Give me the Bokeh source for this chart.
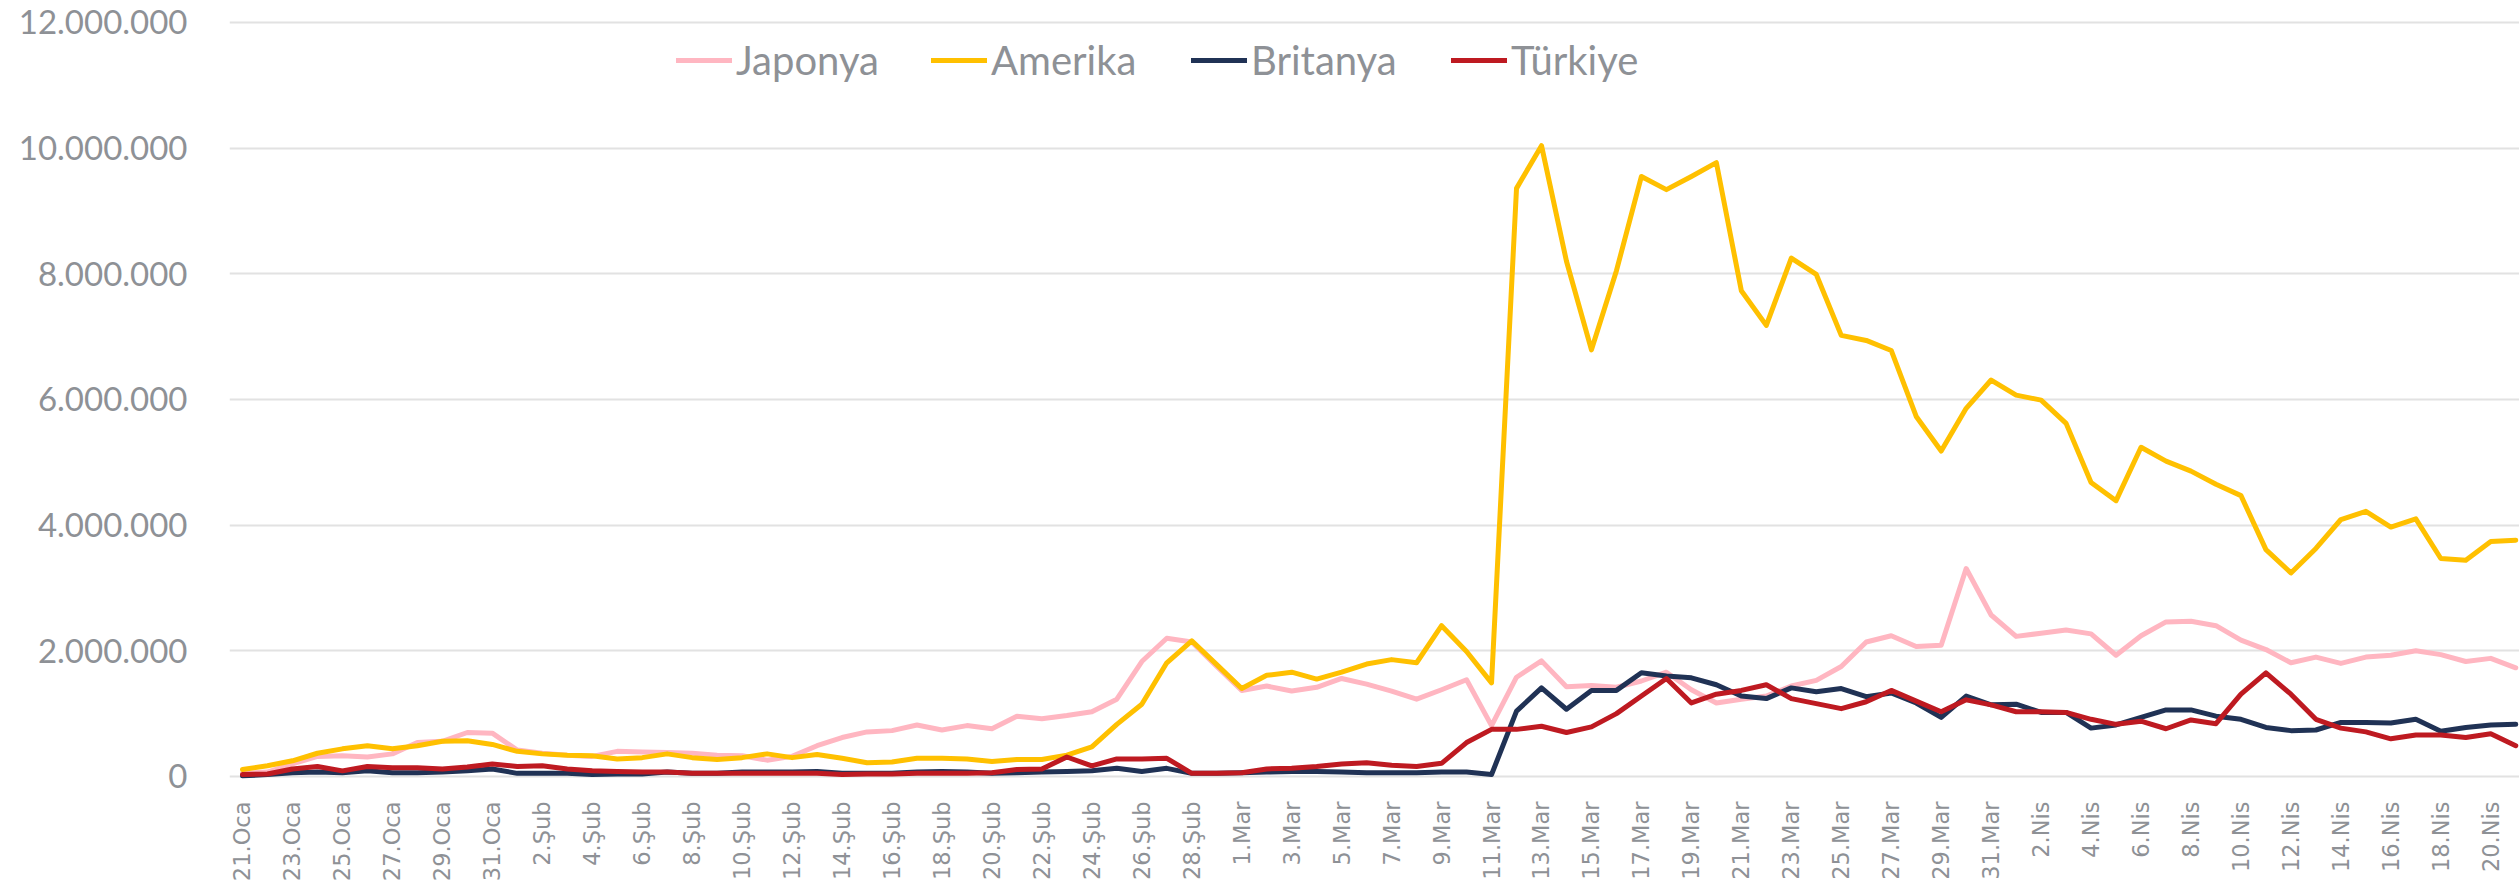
from bokeh.plotting import figure
from bokeh.models import Range1d, Legend, LegendItem, FixedTicker, CustomJSTickFormatter
from bokeh.embed import file_html
from bokeh.resources import INLINE
from math import pi

# ---- data (values in millions) ----
tick_labels = ["21.Oca", "23.Oca", "25.Oca", "27.Oca", "29.Oca", "31.Oca",
               "2.Şub", "4.Şub", "6.Şub", "8.Şub", "10.Şub", "12.Şub", "14.Şub",
               "16.Şub", "18.Şub", "20.Şub", "22.Şub", "24.Şub", "26.Şub", "28.Şub",
               "1.Mar", "3.Mar", "5.Mar", "7.Mar", "9.Mar", "11.Mar", "13.Mar",
               "15.Mar", "17.Mar", "19.Mar", "21.Mar", "23.Mar", "25.Mar", "27.Mar",
               "29.Mar", "31.Mar",
               "2.Nis", "4.Nis", "6.Nis", "8.Nis", "10.Nis", "12.Nis", "14.Nis",
               "16.Nis", "18.Nis", "20.Nis"]

japonya = [0.05, 0.07, 0.20, 0.32, 0.33, 0.31, 0.36, 0.54, 0.56, 0.70, 0.69,
           0.42, 0.37, 0.34, 0.32, 0.40, 0.39, 0.38, 0.37, 0.34, 0.33,
           0.26, 0.32, 0.49, 0.62, 0.71, 0.73, 0.82, 0.74, 0.81, 0.76,
           0.96, 0.92, 0.97, 1.03, 1.23, 1.83, 2.20, 2.14, 1.75, 1.37,
           1.44, 1.36, 1.42, 1.56, 1.47, 1.36, 1.23, 1.38, 1.54, 0.81,
           1.58, 1.84, 1.43, 1.45, 1.42, 1.52, 1.66, 1.38, 1.17, 1.23,
           1.28, 1.44, 1.53, 1.75, 2.14, 2.24, 2.07, 2.09, 3.31, 2.57,
           2.23, 2.28, 2.33, 2.27, 1.93, 2.24, 2.46, 2.47, 2.40, 2.17,
           2.02, 1.81, 1.90, 1.80, 1.90, 1.93, 2.00, 1.94, 1.83, 1.88, 1.73]

amerika = [0.11, 0.17, 0.25, 0.37, 0.44, 0.49, 0.44, 0.49, 0.56, 0.57, 0.51,
           0.40, 0.36, 0.34, 0.33, 0.28, 0.30, 0.36, 0.30, 0.27, 0.30,
           0.36, 0.30, 0.35, 0.29, 0.22, 0.23, 0.29, 0.29, 0.28, 0.24,
           0.27, 0.27, 0.34, 0.47, 0.83, 1.15, 1.81, 2.16, 1.78, 1.40,
           1.61, 1.66, 1.55, 1.66, 1.79, 1.86, 1.81, 2.40, 1.99, 1.49,
           9.36, 10.04, 8.20, 6.79, 8.05, 9.55, 9.34, 9.55, 9.77, 7.73,
           7.18, 8.25, 7.99, 7.02, 6.94, 6.78, 5.73, 5.18, 5.86, 6.31,
           6.07, 5.99, 5.62, 4.68, 4.39, 5.24, 5.02, 4.86, 4.65, 4.47,
           3.61, 3.24, 3.63, 4.09, 4.22, 3.97, 4.10, 3.47, 3.44, 3.74, 3.76]

britanya = [0.01, 0.03, 0.06, 0.07, 0.06, 0.09, 0.06, 0.06, 0.07, 0.09, 0.12,
            0.05, 0.05, 0.05, 0.03, 0.04, 0.04, 0.07, 0.05, 0.05, 0.07,
            0.07, 0.07, 0.08, 0.05, 0.05, 0.05, 0.07, 0.08, 0.07, 0.05,
            0.06, 0.07, 0.08, 0.09, 0.13, 0.08, 0.13, 0.05, 0.05, 0.06,
            0.07, 0.08, 0.08, 0.07, 0.06, 0.06, 0.06, 0.07, 0.07, 0.03,
            1.04, 1.41, 1.07, 1.37, 1.37, 1.65, 1.60, 1.57, 1.46, 1.28,
            1.24, 1.41, 1.35, 1.40, 1.27, 1.33, 1.17, 0.94, 1.28, 1.14,
            1.15, 1.02, 1.02, 0.77, 0.82, 0.94, 1.06, 1.06, 0.96, 0.91,
            0.78, 0.73, 0.74, 0.86, 0.86, 0.85, 0.91, 0.72, 0.78, 0.82, 0.83]

turkiye = [0.03, 0.04, 0.12, 0.16, 0.09, 0.16, 0.14, 0.14, 0.12, 0.15, 0.20,
           0.16, 0.17, 0.12, 0.09, 0.08, 0.07, 0.07, 0.05, 0.05, 0.05,
           0.05, 0.05, 0.05, 0.03, 0.04, 0.04, 0.05, 0.05, 0.05, 0.06,
           0.11, 0.12, 0.31, 0.17, 0.28, 0.28, 0.29, 0.05, 0.05, 0.06,
           0.12, 0.13, 0.16, 0.20, 0.22, 0.18, 0.16, 0.21, 0.54, 0.75,
           0.75, 0.80, 0.70, 0.79, 1.00, 1.28, 1.56, 1.17, 1.31, 1.37,
           1.46, 1.24, 1.16, 1.08, 1.19, 1.37, 1.20, 1.03, 1.22, 1.14,
           1.03, 1.03, 1.02, 0.91, 0.83, 0.88, 0.76, 0.90, 0.84, 1.31,
           1.65, 1.31, 0.91, 0.77, 0.71, 0.60, 0.66, 0.66, 0.62, 0.68, 0.49]

series_names = ["Japonya", "Amerika", "Britanya", "Türkiye"]
series_values = [japonya, amerika, britanya, turkiye]
series_colors = ["#FFB6C1", "#FFC000", "#203255", "#BE1A21"]
y_ticks = [0, 2e6, 4e6, 6e6, 8e6, 10e6, 12e6]

MILLION = 1e6
GRAY = "#8E9196"

days = list(range(len(japonya)))

p = figure(width=2519, height=882, output_backend="svg", toolbar_location=None,
           x_range=Range1d(-0.52, 91.15),
           y_range=Range1d(-1.6871e6, 12.3501e6),
           min_border_left=229, min_border_right=0, min_border_top=0,
           min_border_bottom=0)
p.outline_line_color = None
p.background_fill_color = "white"
p.border_fill_color = "white"

renderers = []
for name, vals, col in zip(series_names, series_values, series_colors):
    r = p.line(days, [v * MILLION for v in vals], line_color=col, line_width=5,
               line_join="round", line_cap="round")
    renderers.append(r)

# grid
p.xgrid.grid_line_color = None
p.ygrid.ticker = FixedTicker(ticks=y_ticks)
p.ygrid.grid_line_color = "#E2E2E2"
p.ygrid.grid_line_width = 2

# y axis
p.yaxis.ticker = FixedTicker(ticks=y_ticks)
p.yaxis.formatter = CustomJSTickFormatter(
    code="return Math.round(tick).toString().replace(/\\B(?=(\\d{3})+(?!\\d))/g, '.');")
p.yaxis.axis_line_color = None
p.yaxis.major_tick_line_color = None
p.yaxis.minor_tick_line_color = None
p.yaxis.major_label_standoff = 36
p.yaxis.major_label_text_font = "Lato"
p.yaxis.major_label_text_font_size = "33px"
p.yaxis.major_label_text_color = GRAY

# x axis pinned at value 0
x_ticks = list(range(0, 2 * len(tick_labels), 2))
p.xaxis.fixed_location = 0
p.xaxis.ticker = FixedTicker(ticks=x_ticks)
p.xaxis.major_label_overrides = {t: lab for t, lab in zip(x_ticks, tick_labels)}
p.xaxis.major_label_orientation = pi / 2
p.xaxis.axis_line_color = None
p.xaxis.major_tick_line_color = None
p.xaxis.minor_tick_line_color = None
p.xaxis.major_label_standoff = 19
p.xaxis.major_label_text_font = "DejaVu Sans"
p.xaxis.major_label_text_font_size = "22.5px"
p.xaxis.major_label_text_color = GRAY

# legends (one per item, placed horizontally)
legend_x = [447, 702, 962, 1222]
for name, r, lx in zip(series_names, renderers, legend_x):
    lg = Legend(items=[LegendItem(label=name, renderers=[r])],
                location=(lx, 798), orientation="horizontal",
                glyph_width=56, glyph_height=20, label_standoff=4,
                padding=0, margin=0, spacing=0,
                border_line_alpha=0, background_fill_alpha=0,
                label_text_font="Lato", label_text_font_size="40px",
                label_text_color=GRAY)
    p.add_layout(lg, "center")

open("out.html", "w").write(file_html(p, INLINE))
